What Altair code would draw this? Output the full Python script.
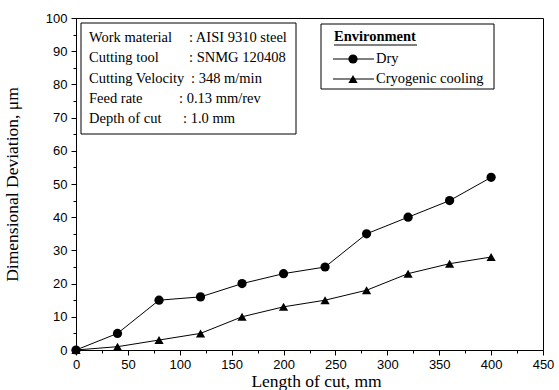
import altair as alt
import pandas as pd

length_mm = [0, 40, 80, 120, 160, 200, 240, 280, 320, 360, 400]
dry = [0, 5, 15, 16, 20, 23, 25, 35, 40, 45, 52]
cryo = [0, 1, 3, 5, 10, 13, 15, 18, 23, 26, 28]
series_names = ["Dry", "Cryogenic cooling"]

info_labels = ["Work material", "Cutting tool", "Cutting Velocity", "Feed rate", "Depth of cut"]
info_values = [": AISI 9310 steel", ": SNMG 120408", ": 348 m/min", ": 0.13 mm/rev", ": 1.0 mm"]
legend_title = "Environment"

y_ticks = list(range(0, 101, 5))
x_ticks = list(range(0, 451, 25))

W, H = 467, 332
SERIF = "Liberation Serif"
SANS = "Liberation Sans"

df = pd.DataFrame({
    "x": length_mm * 2,
    "y": dry + cryo,
    "series": [series_names[0]] * len(dry) + [series_names[1]] * len(cryo),
})

xscale = alt.Scale(domain=[0, 450], nice=False, zero=False)
yscale = alt.Scale(domain=[0, 100], nice=False)

xaxis = alt.Axis(
    values=x_ticks, grid=False, labelOverlap=False,
    labelExpr="datum.value % 50 === 0 ? datum.label : ''",
    tickSize={"condition": {"test": "datum.value % 50 === 0", "value": 5}, "value": 3},
    labelFont=SANS, labelFontSize=13, labelColor="black", labelPadding=3,
    domainColor="black", tickColor="black", labelFlush=False,
    title="Length of cut, mm", titleFont=SERIF, titleFontSize=17.5,
    titleFontWeight="normal", titleColor="black",
    titleX=240, titleY=31, titleBaseline="middle",
)
yaxis = alt.Axis(
    values=y_ticks, grid=False, labelOverlap=False,
    labelExpr="datum.value % 10 === 0 ? datum.label : ''",
    tickSize={"condition": {"test": "datum.value % 10 === 0", "value": 5}, "value": 3},
    labelFont=SANS, labelFontSize=13, labelColor="black", labelPadding=4,
    domainColor="black", tickColor="black", labelFlush=False,
    title="Dimensional Deviation, \u03bcm", titleFont=SERIF, titleFontSize=17.5,
    titleFontWeight="normal", titleColor="black",
    titleX=-64, titleY=166, titleBaseline="middle", titleAngle=270,
)

base = alt.Chart(df)
lines = base.mark_line(color="black", strokeWidth=1).encode(
    x=alt.X("x:Q", scale=xscale, axis=xaxis),
    y=alt.Y("y:Q", scale=yscale, axis=yaxis),
    detail="series:N",
)
points = base.mark_point(filled=True, color="black", opacity=1, size=85).encode(
    x=alt.X("x:Q", scale=xscale, axis=xaxis),
    y=alt.Y("y:Q", scale=yscale, axis=yaxis),
    shape=alt.Shape("series:N", scale=alt.Scale(domain=series_names, range=["circle", "triangle-up"]), legend=None),
)

one = pd.DataFrame({"k": [0]})
anno = alt.Chart(one)

layers = [lines, points]

# info box
layers.append(anno.mark_rect(fill="white", stroke="black", strokeWidth=1).encode(
    x=alt.value(5), x2=alt.value(220), y=alt.value(5), y2=alt.value(116)))
row_y = [20, 40, 61, 81, 101]
val_x = [113, 113, 115, 103, 107]
for i, (lab, val) in enumerate(zip(info_labels, info_values)):
    layers.append(anno.mark_text(align="left", baseline="middle", font=SERIF, fontSize=14.5, color="black", text=lab).encode(
        x=alt.value(13), y=alt.value(row_y[i])))
    layers.append(anno.mark_text(align="left", baseline="middle", font=SERIF, fontSize=14.5, color="black", text=val).encode(
        x=alt.value(val_x[i]), y=alt.value(row_y[i])))

# legend box
layers.append(anno.mark_rect(fill="white", stroke="black", strokeWidth=1).encode(
    x=alt.value(245), x2=alt.value(418), y=alt.value(6), y2=alt.value(71)))
layers.append(anno.mark_text(align="left", baseline="middle", font=SERIF, fontSize=14.5, fontWeight="bold", color="black", text=legend_title).encode(
    x=alt.value(258), y=alt.value(19)))
layers.append(anno.mark_rule(color="black", strokeWidth=1.2).encode(
    x=alt.value(258), x2=alt.value(341), y=alt.value(27)))
leg_y = [41, 61]
shapes = ["circle", "triangle-up"]
for i, name in enumerate(series_names):
    layers.append(anno.mark_rule(color="black", strokeWidth=1).encode(
        x=alt.value(257), x2=alt.value(298), y=alt.value(leg_y[i])))
    layers.append(anno.mark_point(filled=True, color="black", opacity=1, size=85, shape=shapes[i]).encode(
        x=alt.value(277), y=alt.value(leg_y[i])))
    layers.append(anno.mark_text(align="left", baseline="middle", font=SERIF, fontSize=14.5, color="black", text=name).encode(
        x=alt.value(300), y=alt.value(leg_y[i])))

chart = alt.layer(*layers).properties(
    width=W, height=H,
    autosize=alt.AutoSizeParams(type="none"),
    padding={"left": 76, "top": 18, "right": 16, "bottom": 40},
    background="white",
).configure_view(stroke="black", strokeWidth=1)

chart.save("out.html", embed_options={"renderer": "svg", "actions": False})
